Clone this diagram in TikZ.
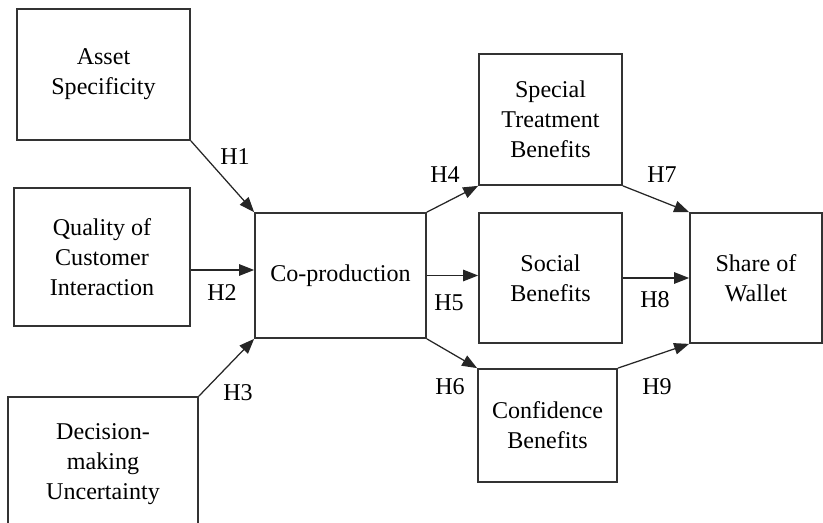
\documentclass[tikz,border=0pt]{standalone}
\usepackage{fontspec}
\setmainfont{Liberation Serif}
\usetikzlibrary{arrows.meta,calc}

\begin{document}
\begin{tikzpicture}[
    box/.style={draw=black!80, line width=.35mm, align=center, inner sep=0pt, font=\fontsize{13.7}{17}\selectfont},
    hyp/.style={-{Triangle[length=3mm,width=2.3mm]}, draw=black!85, line width=.25mm},
    lbl/.style={font=\fontsize{13.7}{17}\selectfont}
]
    \useasboundingbox (0,0) rectangle (16.46,-10.46);
    % Antecedents
    \node[box, minimum width=3.46cm, minimum height=2.62cm] (Asset) at (2.07,-1.49) {Asset\\Specificity};
    \node[box, minimum width=3.52cm, minimum height=2.76cm] (Quality) at (2.04,-5.14) {Quality of\\Customer\\Interaction};
    \node[box, minimum width=3.8cm, minimum height=2.68cm] (Decision) at (2.06,-9.28) {Decision-\\making\\Uncertainty};
    % Mediator
    \node[box, minimum width=3.42cm, minimum height=2.5cm] (Coprod) at (6.81,-5.51) {Co-production};
    % Benefits
    \node[box, minimum width=2.86cm, minimum height=2.62cm] (Special) at (11.01,-2.39) {Special\\Treatment\\Benefits};
    \node[box, minimum width=2.86cm, minimum height=2.6cm] (Social) at (11.01,-5.56) {Social\\Benefits};
    \node[box, minimum width=2.78cm, minimum height=2.26cm] (Confidence) at (10.95,-8.51) {Confidence\\Benefits};
    % Outcome
    \node[box, minimum width=2.64cm, minimum height=2.6cm] (Share) at (15.12,-5.56) {Share of\\Wallet};
    % Arrows
    \foreach \a/\b in {Asset.south east/Coprod.north west,
                       Decision.north east/Coprod.south west,
                       Coprod.north east/Special.south west,
                       Coprod.south east/Confidence.north west,
                       Special.south east/Share.north west,
                       Social.east/Share.west,
                       Confidence.north east/Share.south west} {
        \draw[hyp] (\a) -- (\b);
    }
    \draw[hyp] ($(Coprod.west -| Quality.east)+(0,0.11)$) -- ($(Coprod.west)+(0,0.11)$);
    \draw[hyp] (Coprod.east) -- (Coprod.east -| Social.west);
    % Hypotheses
    \foreach \i/\x/\y in {1/4.7/-3.14, 2/4.44/-5.86, 3/4.76/-7.86,
                          4/8.9/-3.5, 5/8.98/-6.06, 6/9.0/-7.74,
                          7/13.24/-3.5, 8/13.1/-6.0, 9/13.14/-7.74} {
        \node[lbl] (H\i) at (\x,\y) {H\i};
    }
\end{tikzpicture}
\end{document}
